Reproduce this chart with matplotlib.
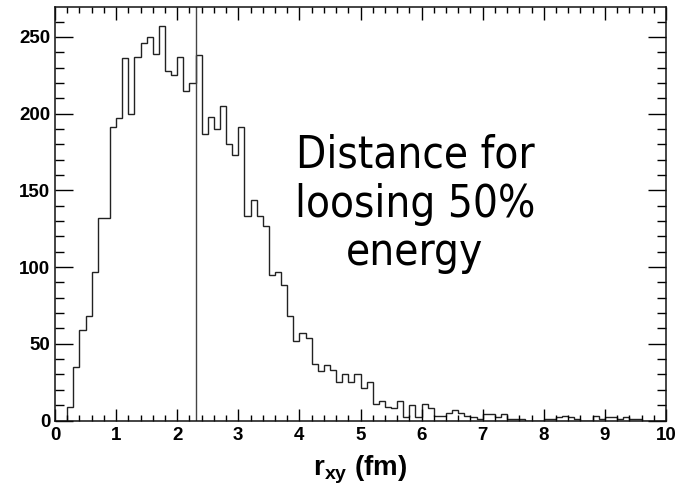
import matplotlib
matplotlib.use('Agg')
import matplotlib.pyplot as plt
import numpy as np

# Histogram of r_xy (fm): 100 bins of width 0.1 from 0 to 10
bin_edges = np.round(np.arange(0, 10.01, 0.1), 2)
counts = [
    0, 0, 9, 35, 59, 68, 97, 132, 132, 191,
    197, 236, 200, 237, 246, 250, 239, 257, 228, 225,
    237, 215, 220, 238, 187, 198, 190, 205, 180, 173,
    191, 133, 144, 133, 127, 95, 97, 88, 68, 52,
    57, 54, 37, 32, 36, 33, 25, 30, 25, 30,
    21, 25, 11, 13, 9, 8, 13, 2, 10, 2,
    11, 8, 3, 3, 5, 7, 5, 3, 2, 1,
    4, 4, 2, 4, 1, 1, 1, 0, 0, 0,
    1, 1, 2, 3, 2, 1, 0, 0, 3, 1,
    2, 2, 1, 2, 1, 1, 0, 0, 0, 0,
]
marker_x = 2.31
x_ticks = [0, 1, 2, 3, 4, 5, 6, 7, 8, 9, 10]
y_ticks = [0, 50, 100, 150, 200, 250]
annotation_lines = ["Distance for", "loosing 50%", "energy"]
x_label = r'$\mathbf{r}_{\mathbf{xy}}$ (fm)'

plt.rcParams['mathtext.fontset'] = 'custom'
plt.rcParams['mathtext.bf'] = 'Liberation Sans:bold'
plt.rcParams['mathtext.rm'] = 'Liberation Sans'

W, H = 681, 488
fig = plt.figure(figsize=(W / 100, H / 100), dpi=100)
left, right, top, bottom = 55, 666, 7, 420.5
ax = fig.add_axes([left / W, 1 - bottom / H, (right - left) / W, (bottom - top) / H])

ax.stairs(counts, bin_edges, color='#222222', lw=1.0)
ax.axvline(marker_x, color='#444444', lw=1.0)

ax.set_xlim(0, 10)
ax.set_ylim(0, 269.5)

ax.set_xticks(x_ticks)
ax.set_xticks(np.arange(0, 10.01, 0.2), minor=True)
ax.set_yticks(y_ticks)
ax.set_yticks(np.arange(0, 270, 10), minor=True)

ax.tick_params(axis='x', which='major', direction='in', length=9, width=1.0,
               top=True, bottom=True, pad=4.5)
ax.tick_params(axis='x', which='minor', direction='in', length=4.5, width=1.0,
               top=True, bottom=True)
ax.tick_params(axis='y', which='major', direction='in', length=13, width=1.0,
               left=True, right=True, pad=3.5)
ax.tick_params(axis='y', which='minor', direction='in', length=6.5, width=1.0,
               left=True, right=True)

for lab in ax.get_xticklabels() + ax.get_yticklabels():
    lab.set_fontfamily('Liberation Sans')
    lab.set_fontweight('bold')
    lab.set_fontsize(13.5)

for sp in ax.spines.values():
    sp.set_linewidth(1.1)
    sp.set_color('#111111')

fig.text(360.5 / W, 1 - 475 / H, x_label, ha='center', va='baseline',
         fontsize=20, fontweight='bold', family='Liberation Sans')

baselines = [167, 217, 265]
for line, yb in zip(annotation_lines, baselines):
    fig.text(415 / W, 1 - yb / H, line, ha='center', va='baseline',
             fontsize=31.5, family='DejaVu Sans', fontstretch='condensed', color='black')

fig.savefig('out.png', dpi=100)
